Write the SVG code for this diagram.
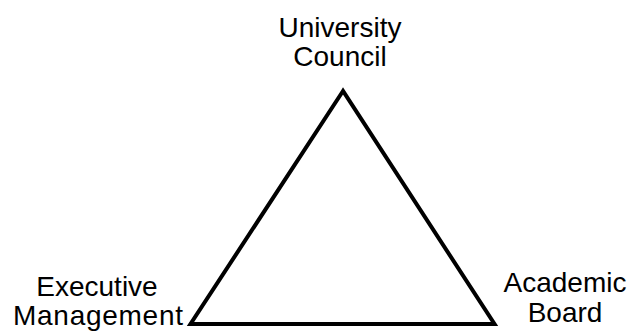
<svg xmlns="http://www.w3.org/2000/svg" width="631" height="334" viewBox="0 0 631 334">
<style>
text{font-family:"Liberation Sans",Arial,sans-serif;font-size:28px;fill:#000;text-anchor:middle}
.edge{fill:none;stroke:#000;stroke-width:4;stroke-linejoin:miter}
</style>
<rect width="631" height="334" fill="#fff"/>
<g id="connectors">
<polygon class="edge" points="343,91 190.5,324 494.5,324"/>
</g>
<g id="node-council"><text x="340" y="37">University</text><text x="340" y="66">Council</text></g>
<g id="node-executive"><text x="97" y="296">Executive</text><text x="98" y="325" textLength="170" lengthAdjust="spacing">Management</text></g>
<g id="node-academic"><text x="565" y="292">Academic</text><text x="565" y="322">Board</text></g>
</svg>
